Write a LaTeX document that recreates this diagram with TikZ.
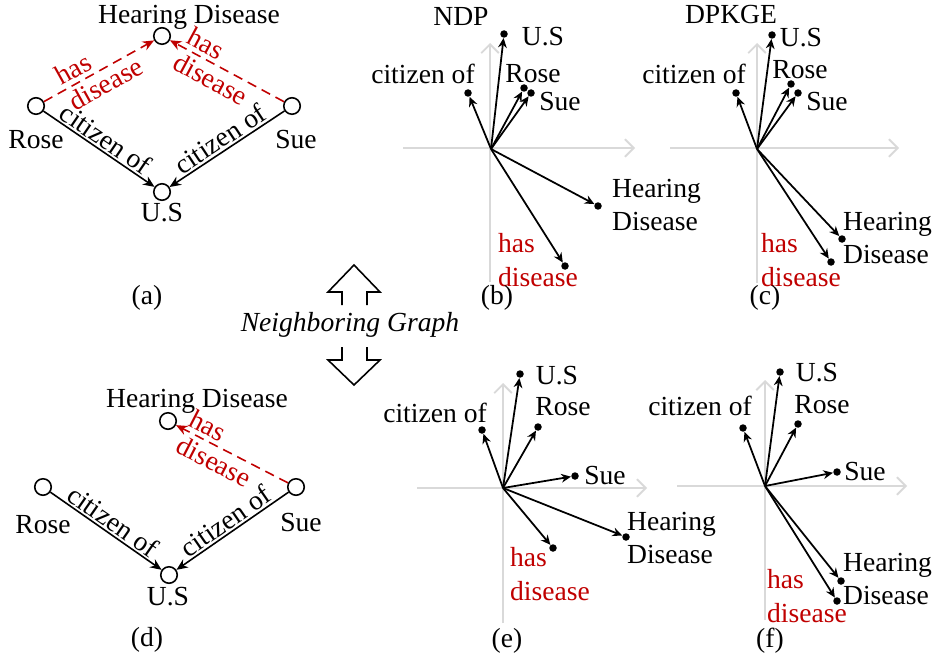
\documentclass[tikz,border=0pt]{standalone}
\usepackage{fontspec}
\setmainfont{Liberation Serif}
\usetikzlibrary{arrows.meta}
\definecolor{relred}{RGB}{192,0,0}
\tikzset{
    >={Stealth[length=6.5pt,width=5.5pt]},
    txt/.style={font=\fontsize{15.7}{19.3}\selectfont, inner sep=1pt},
    entity/.style={draw, line width=0.9pt, circle, minimum size=0.33cm, inner sep=0pt},
    citizen/.style={->, line width=0.9pt},
    hasdis/.style={citizen, relred, dash pattern=on 5.5pt off 3.5pt},
    rellabel/.style={txt, sloped, align=left, text=relred, font=\fontsize{15.7}{16.5}\selectfont},
    axis/.style={draw=black!15, line width=1.1pt, -{Straight Barb[length=5pt,width=10pt]}},
    vecdot/.style={circle, fill, inner sep=0pt, minimum size=0.15cm},
    vec/.style={-{Stealth[length=5.5pt,width=5pt]}, line width=1pt},
    twoline/.style={txt, align=left, anchor=west},
}

\begin{document}
\begin{tikzpicture}[x=0.02cm, y=-0.02cm]
    \useasboundingbox (0,0) rectangle (935,662);
    % (a) full graph
    \foreach \n/\x/\y in {HD/162/36, Rose/36/106, Sue/292/106, US/162/192}
        \node[entity] (a\n) at (\x,\y) {};
    \node[txt] (aHDl) at (189,17) {Hearing Disease};
    \node[txt] (aRosel) at (36,140) {Rose};
    \node[txt] (aSuel) at (296,140) {Sue};
    \node[txt] (aUSl) at (162,213) {U.S};
    \draw[citizen] (aRose) -- node[txt, sloped, above] {citizen of} (aUS);
    \draw[citizen] (aSue) -- node[txt, sloped, above] {citizen of} (aUS);
    \draw[hasdis] (aRose) -- node[rellabel] {has\\disease} (aHD);
    \draw[hasdis] (aSue) -- node[rellabel, pos=0.58] {has\\disease} (aHD);
    \node[txt] (acap) at (147,298) {(a)};
    % neighboring graph
    \draw[line width=0.9pt] (342,305) -- (342,292) -- (328,292) -- (354,265) -- (380,292) -- (367,292) -- (367,305);
    \draw[line width=0.9pt] (342,347) -- (342,360) -- (328,360) -- (354,385) -- (380,360) -- (367,360) -- (367,347);
    \node[txt, font=\fontsize{15.7}{19.3}\selectfont\itshape] (ng) at (350,325) {Neighboring Graph};
    % (b) NDP
    \draw[axis] (403,148) -- (635,148);
    \draw[axis] (490,282) -- (490,43);
    \coordinate (bO) at (491,149);
    \foreach \n/\x/\y in {US/504/34, Rose/524/88, Sue/531/93, Cit/468/93, HD/598/206, Has/565/266} {
        \node[vecdot] (b\n) at (\x,\y) {};
        \draw[vec] (bO) -- (b\n);
    }
    \node[txt] (bt) at (461,16) {NDP};
    \node[txt] (bUSl) at (543,37) {U.S};
    \node[txt] (bRosel) at (533,74) {Rose};
    \node[txt] (bSuel) at (560,102) {Sue};
    \node[txt] (bCitl) at (423,74) {citizen of};
    \node[twoline] (bHDl) at (610,205) {Hearing\\Disease};
    \node[twoline, text=relred] (bHasl) at (496,260) {has\\disease};
    \node[txt] (bcap) at (497,298) {(b)};
    % (c) DPKGE
    \draw[axis] (670,148) -- (899,148);
    \draw[axis] (757,283) -- (757,43);
    \coordinate (cO) at (757,149);
    \foreach \n/\x/\y in {US/772/35, Rose/791/84, Sue/798/93, Cit/736/93, HD/842/239, Has/831/262} {
        \node[vecdot] (c\n) at (\x,\y) {};
        \draw[vec] (cO) -- (c\n);
    }
    \node[txt] (ct) at (731,15) {DPKGE};
    \node[txt] (cUSl) at (801,38) {U.S};
    \node[txt] (cRosel) at (800,70) {Rose};
    \node[txt] (cSuel) at (827,102) {Sue};
    \node[txt] (cCitl) at (694,74) {citizen of};
    \node[twoline] (cHDl) at (841,238) {Hearing\\Disease};
    \node[twoline, text=relred] (cHasl) at (759,260) {has\\disease};
    \node[txt] (ccap) at (765,298) {(c)};
    % (d) neighboring graph
    \foreach \n/\x/\y in {HD/168/421, Rose/43/487, Sue/296/487, US/169/575}
        \node[entity] (d\n) at (\x,\y) {};
    \node[txt] (dHDl) at (197,401) {Hearing Disease};
    \node[txt] (dRosel) at (43,525) {Rose};
    \node[txt] (dSuel) at (301,522) {Sue};
    \node[txt] (dUSl) at (168,597) {U.S};
    \draw[citizen] (dRose) -- node[txt, sloped, above] {citizen of} (dUS);
    \draw[citizen] (dSue) -- node[txt, sloped, above] {citizen of} (dUS);
    \draw[hasdis] (dSue) -- node[rellabel, pos=0.6] {has\\disease} (dHD);
    \node[txt] (dcap) at (147,640) {(d)};
    % (e)
    \draw[axis] (417,488) -- (647,488);
    \draw[axis] (503,623) -- (503,383);
    \coordinate (eO) at (503,488);
    \foreach \n/\x/\y in {US/520/374, Rose/538/427, Sue/575/476, Cit/482/430, HD/626/537, Has/553/548} {
        \node[vecdot] (e\n) at (\x,\y) {};
        \draw[vec] (eO) -- (e\n);
    }
    \node[txt] (eUSl) at (557,376) {U.S};
    \node[txt] (eRosel) at (563,407) {Rose};
    \node[txt] (eSuel) at (605,475) {Sue};
    \node[txt] (eCitl) at (435,413) {citizen of};
    \node[twoline] (eHDl) at (625,538) {Hearing\\Disease};
    \node[twoline, text=relred] (eHasl) at (508,574) {has\\disease};
    \node[txt] (ecap) at (507,641) {(e)};
    % (f)
    \draw[axis] (677,486) -- (907,486);
    \draw[axis] (765,620) -- (765,380);
    \coordinate (fO) at (765,486);
    \foreach \n/\x/\y in {US/780/372, Rose/798/424, Sue/837/472, Cit/743/428, HD/841/581, Has/837/601} {
        \node[vecdot] (f\n) at (\x,\y) {};
        \draw[vec] (fO) -- (f\n);
    }
    \node[txt] (fUSl) at (817,373) {U.S};
    \node[txt] (fRosel) at (822,405) {Rose};
    \node[txt] (fSuel) at (865,471) {Sue};
    \node[txt] (fCitl) at (700,406) {citizen of};
    \node[twoline] (fHDl) at (841,579) {Hearing\\Disease};
    \node[twoline, text=relred] (fHasl) at (765,596) {has\\disease};
    \node[txt] (fcap) at (770,641) {(f)};
\end{tikzpicture}
\end{document}
